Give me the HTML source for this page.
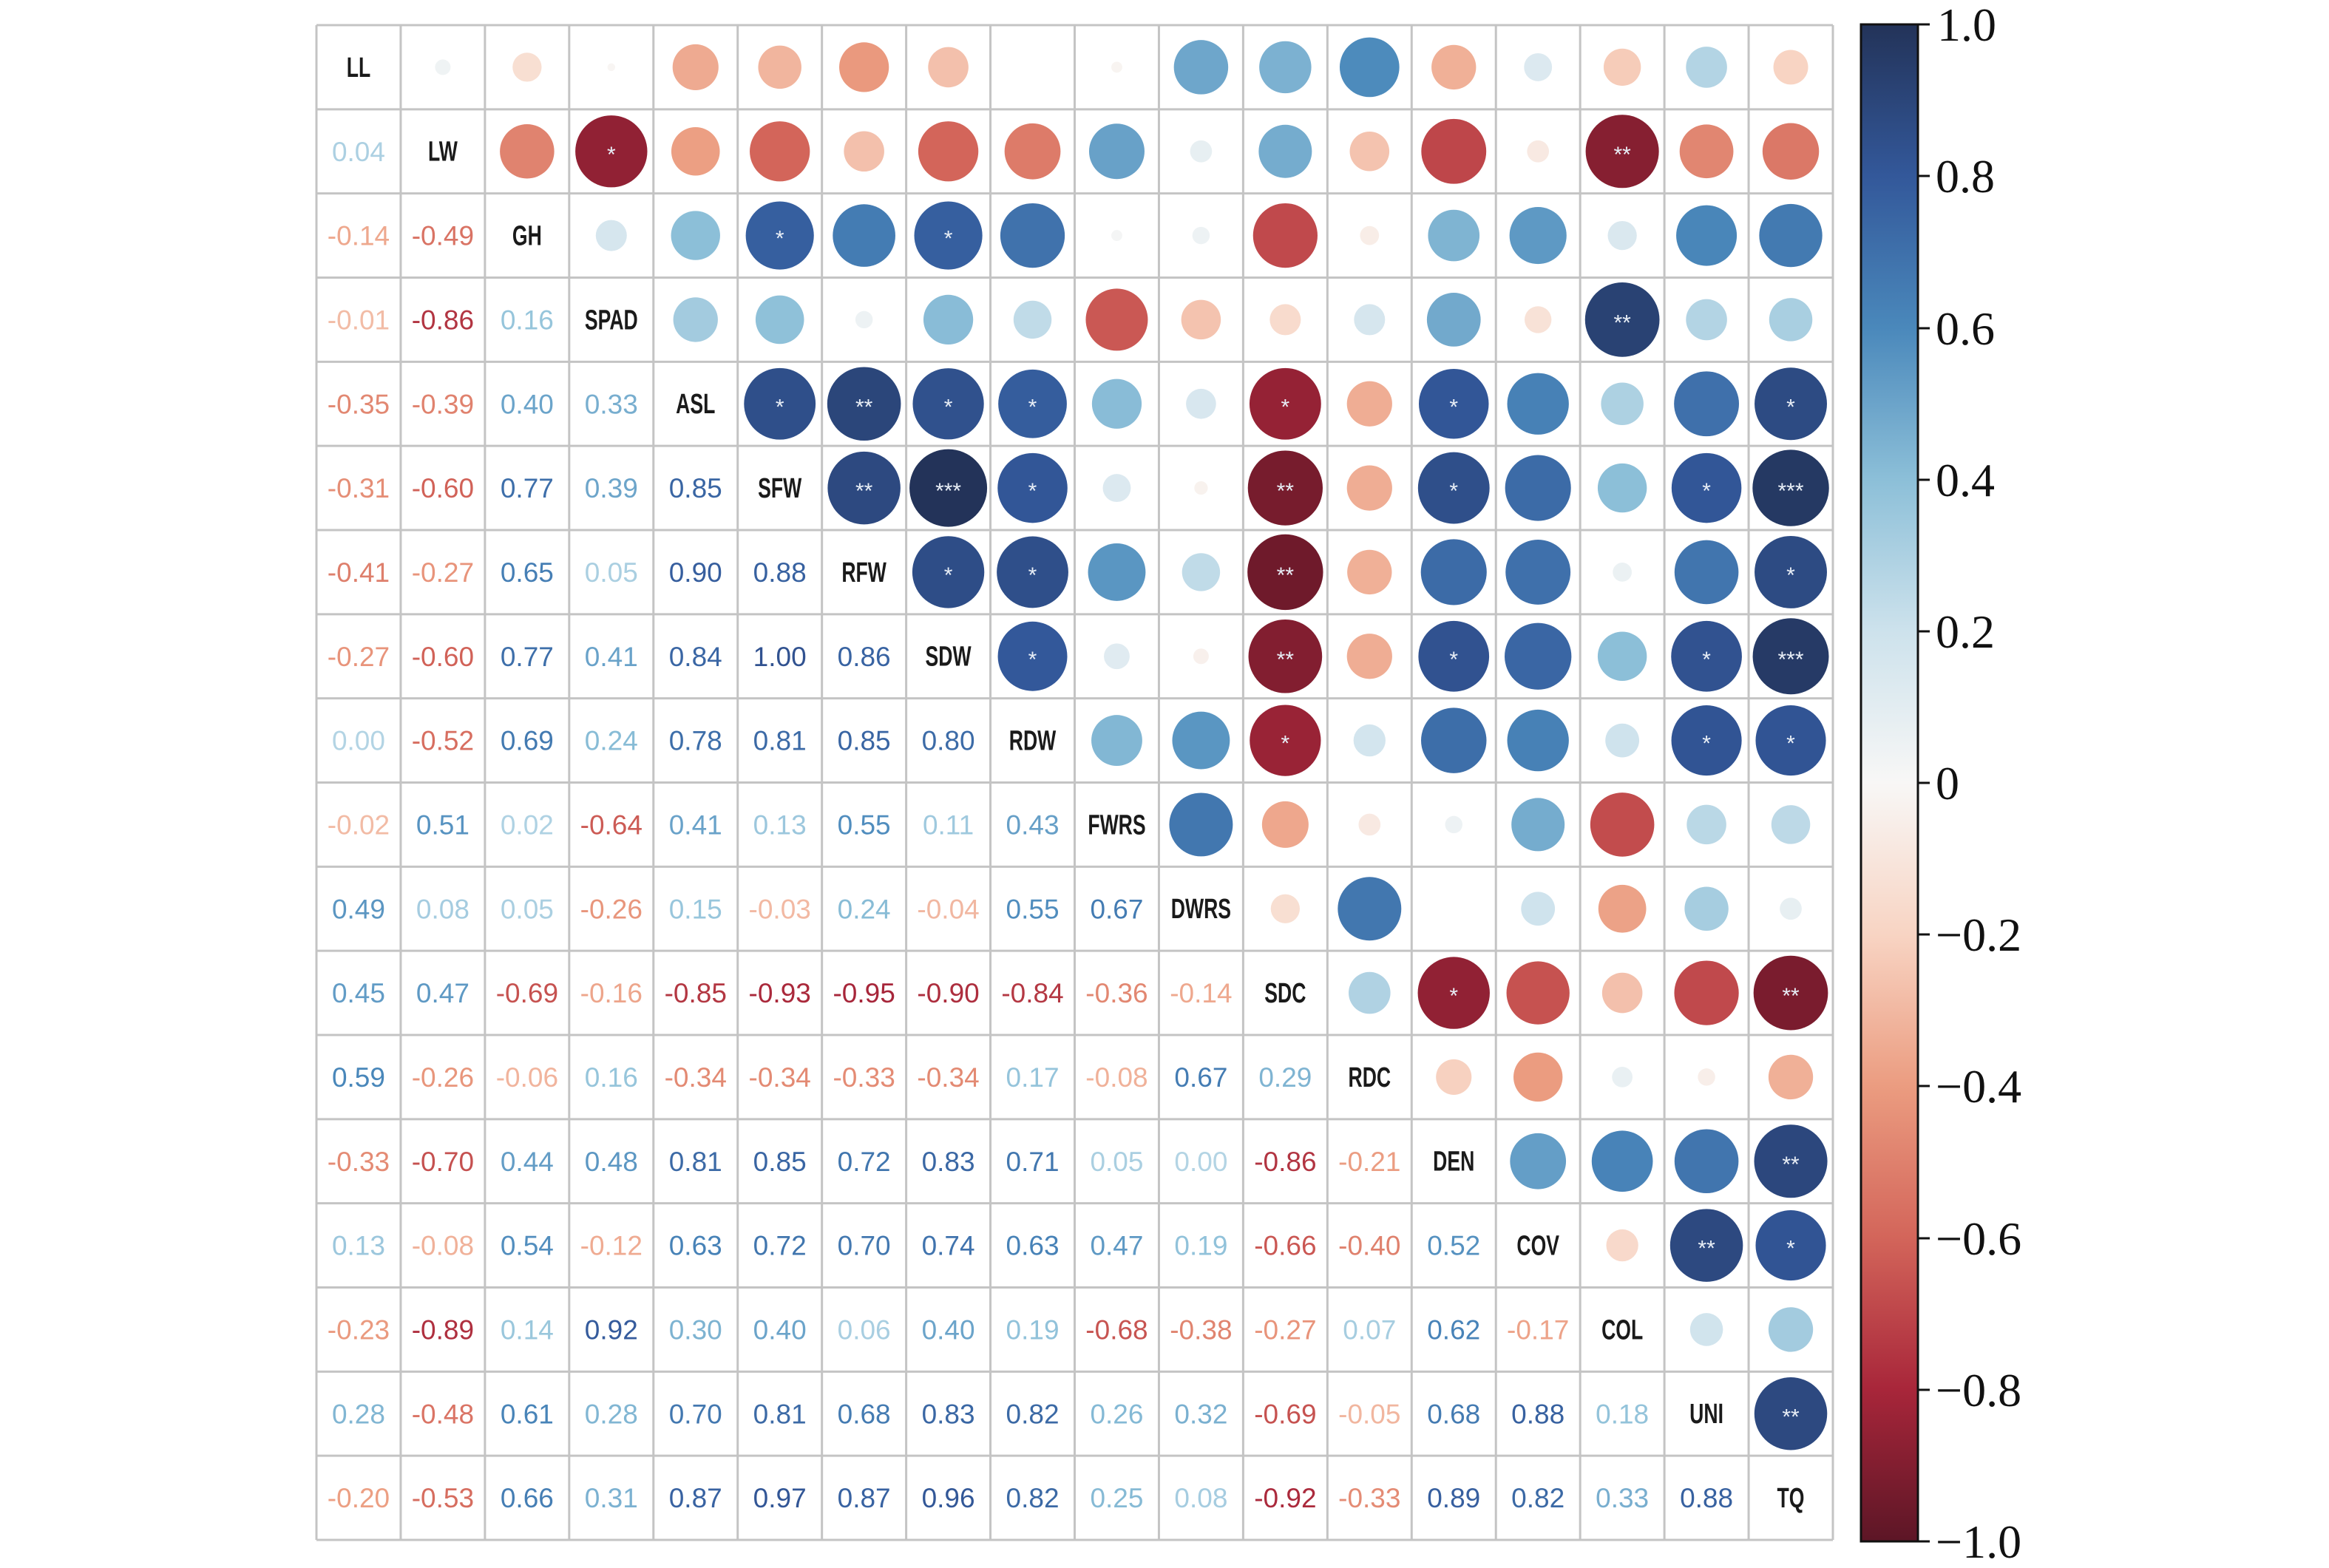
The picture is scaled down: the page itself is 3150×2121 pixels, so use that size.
<!DOCTYPE html>
<html><head><meta charset="utf-8"><style>
html,body{margin:0;padding:0;background:#fff;}
svg{display:block;}
.n{font-family:"Liberation Sans",sans-serif;font-size:37px;text-anchor:middle;}
.d{font-family:"Liberation Sans",sans-serif;font-size:38px;font-weight:bold;text-anchor:middle;fill:#1a1a1a;}
.s{font-family:"Liberation Sans",sans-serif;font-size:30px;text-anchor:middle;fill:#e8eef6;}
.cb{font-family:"Liberation Serif",serif;font-size:64px;fill:#111;}
</style></head><body>
<svg id="sv" width="3150" height="2121" viewBox="0 0 3150 2121" xmlns="http://www.w3.org/2000/svg">
<defs><linearGradient id="cg" x1="0" y1="0" x2="0" y2="1">
<stop offset="0" stop-color="#233359"/><stop offset="0.1" stop-color="#33589a"/><stop offset="0.2" stop-color="#4a88bb"/><stop offset="0.3" stop-color="#8cbfd8"/><stop offset="0.4" stop-color="#cde2ec"/><stop offset="0.5" stop-color="#f8f7f6"/><stop offset="0.6" stop-color="#f8d4c3"/><stop offset="0.7" stop-color="#eb9c80"/><stop offset="0.8" stop-color="#d3655a"/><stop offset="0.9" stop-color="#a8263a"/><stop offset="1" stop-color="#5c1626"/>
</linearGradient></defs>
<g id="circ"></g>
<g id="grid"></g>
<g id="rows">
<g><text class="d">LL</text></g>
<g><text class="n">0.04</text><text class="d">LW</text></g>
<g><text class="n">-0.14</text><text class="n">-0.49</text><text class="d">GH</text></g>
<g><text class="n">-0.01</text><text class="n">-0.86</text><text class="n">0.16</text><text class="d">SPAD</text></g>
<g><text class="n">-0.35</text><text class="n">-0.39</text><text class="n">0.40</text><text class="n">0.33</text><text class="d">ASL</text></g>
<g><text class="n">-0.31</text><text class="n">-0.60</text><text class="n">0.77</text><text class="n">0.39</text><text class="n">0.85</text><text class="d">SFW</text></g>
<g><text class="n">-0.41</text><text class="n">-0.27</text><text class="n">0.65</text><text class="n">0.05</text><text class="n">0.90</text><text class="n">0.88</text><text class="d">RFW</text></g>
<g><text class="n">-0.27</text><text class="n">-0.60</text><text class="n">0.77</text><text class="n">0.41</text><text class="n">0.84</text><text class="n">1.00</text><text class="n">0.86</text><text class="d">SDW</text></g>
<g><text class="n">0.00</text><text class="n">-0.52</text><text class="n">0.69</text><text class="n">0.24</text><text class="n">0.78</text><text class="n">0.81</text><text class="n">0.85</text><text class="n">0.80</text><text class="d">RDW</text></g>
<g><text class="n">-0.02</text><text class="n">0.51</text><text class="n">0.02</text><text class="n">-0.64</text><text class="n">0.41</text><text class="n">0.13</text><text class="n">0.55</text><text class="n">0.11</text><text class="n">0.43</text><text class="d">FWRS</text></g>
<g><text class="n">0.49</text><text class="n">0.08</text><text class="n">0.05</text><text class="n">-0.26</text><text class="n">0.15</text><text class="n">-0.03</text><text class="n">0.24</text><text class="n">-0.04</text><text class="n">0.55</text><text class="n">0.67</text><text class="d">DWRS</text></g>
<g><text class="n">0.45</text><text class="n">0.47</text><text class="n">-0.69</text><text class="n">-0.16</text><text class="n">-0.85</text><text class="n">-0.93</text><text class="n">-0.95</text><text class="n">-0.90</text><text class="n">-0.84</text><text class="n">-0.36</text><text class="n">-0.14</text><text class="d">SDC</text></g>
<g><text class="n">0.59</text><text class="n">-0.26</text><text class="n">-0.06</text><text class="n">0.16</text><text class="n">-0.34</text><text class="n">-0.34</text><text class="n">-0.33</text><text class="n">-0.34</text><text class="n">0.17</text><text class="n">-0.08</text><text class="n">0.67</text><text class="n">0.29</text><text class="d">RDC</text></g>
<g><text class="n">-0.33</text><text class="n">-0.70</text><text class="n">0.44</text><text class="n">0.48</text><text class="n">0.81</text><text class="n">0.85</text><text class="n">0.72</text><text class="n">0.83</text><text class="n">0.71</text><text class="n">0.05</text><text class="n">0.00</text><text class="n">-0.86</text><text class="n">-0.21</text><text class="d">DEN</text></g>
<g><text class="n">0.13</text><text class="n">-0.08</text><text class="n">0.54</text><text class="n">-0.12</text><text class="n">0.63</text><text class="n">0.72</text><text class="n">0.70</text><text class="n">0.74</text><text class="n">0.63</text><text class="n">0.47</text><text class="n">0.19</text><text class="n">-0.66</text><text class="n">-0.40</text><text class="n">0.52</text><text class="d">COV</text></g>
<g><text class="n">-0.23</text><text class="n">-0.89</text><text class="n">0.14</text><text class="n">0.92</text><text class="n">0.30</text><text class="n">0.40</text><text class="n">0.06</text><text class="n">0.40</text><text class="n">0.19</text><text class="n">-0.68</text><text class="n">-0.38</text><text class="n">-0.27</text><text class="n">0.07</text><text class="n">0.62</text><text class="n">-0.17</text><text class="d">COL</text></g>
<g><text class="n">0.28</text><text class="n">-0.48</text><text class="n">0.61</text><text class="n">0.28</text><text class="n">0.70</text><text class="n">0.81</text><text class="n">0.68</text><text class="n">0.83</text><text class="n">0.82</text><text class="n">0.26</text><text class="n">0.32</text><text class="n">-0.69</text><text class="n">-0.05</text><text class="n">0.68</text><text class="n">0.88</text><text class="n">0.18</text><text class="d">UNI</text></g>
<g><text class="n">-0.20</text><text class="n">-0.53</text><text class="n">0.66</text><text class="n">0.31</text><text class="n">0.87</text><text class="n">0.97</text><text class="n">0.87</text><text class="n">0.96</text><text class="n">0.82</text><text class="n">0.25</text><text class="n">0.08</text><text class="n">-0.92</text><text class="n">-0.33</text><text class="n">0.89</text><text class="n">0.82</text><text class="n">0.33</text><text class="n">0.88</text><text class="d">TQ</text></g>
</g>
<g id="stars">
<text class="s">*</text><text class="s">**</text>
<text class="s">*</text><text class="s">*</text>
<text class="s">**</text>
<text class="s">*</text><text class="s">**</text><text class="s">*</text><text class="s">*</text><text class="s">*</text><text class="s">*</text><text class="s">*</text>
<text class="s">**</text><text class="s">***</text><text class="s">*</text><text class="s">**</text><text class="s">*</text><text class="s">*</text><text class="s">***</text>
<text class="s">*</text><text class="s">*</text><text class="s">**</text><text class="s">*</text>
<text class="s">*</text><text class="s">**</text><text class="s">*</text><text class="s">*</text><text class="s">***</text>
<text class="s">*</text><text class="s">*</text><text class="s">*</text>
<text class="s">*</text><text class="s">**</text>
<text class="s">**</text>
<text class="s">**</text><text class="s">*</text>
<text class="s">**</text>
</g>
<rect x="2517" y="33" width="77" height="2052" fill="url(#cg)" stroke="#111" stroke-width="3"/>
<g stroke="#111" stroke-width="3">
<line x1="2594" y1="33" x2="2610" y2="33"/><line x1="2594" y1="238" x2="2610" y2="238"/><line x1="2594" y1="444" x2="2610" y2="444"/><line x1="2594" y1="649" x2="2610" y2="649"/><line x1="2594" y1="854" x2="2610" y2="854"/><line x1="2594" y1="1059" x2="2610" y2="1059"/><line x1="2594" y1="1264" x2="2610" y2="1264"/><line x1="2594" y1="1469" x2="2610" y2="1469"/><line x1="2594" y1="1675" x2="2610" y2="1675"/><line x1="2594" y1="1880" x2="2610" y2="1880"/><line x1="2594" y1="2085" x2="2610" y2="2085"/>
</g>
<g class="cb">
<text x="2620" y="55">1.0</text><text x="2618" y="260">0.8</text><text x="2618" y="466">0.6</text><text x="2618" y="671">0.4</text><text x="2618" y="876">0.2</text><text x="2618" y="1081">0</text>
<text x="2618" y="1286">−0.2</text><text x="2618" y="1491">−0.4</text><text x="2618" y="1697">−0.6</text><text x="2618" y="1902">−0.8</text><text x="2618" y="2107">−1.0</text>
</g>
</svg>
<script>
(function(){
var NS="http://www.w3.org/2000/svg";
var X0=428,Y0=34,CW=(2479-428)/18,CH=(2083-34)/18,N=18;
var stops=[[1,"#233359"],[0.8,"#33589a"],[0.6,"#4a88bb"],[0.4,"#8cbfd8"],[0.2,"#cde2ec"],[0,"#f8f7f6"],[-0.2,"#f8d4c3"],[-0.4,"#eb9c80"],[-0.6,"#d3655a"],[-0.8,"#a8263a"],[-1,"#5c1626"]];
function hx(h){return [parseInt(h.substr(1,2),16),parseInt(h.substr(3,2),16),parseInt(h.substr(5,2),16)];}
function col(v){for(var k=0;k<stops.length-1;k++){var a=stops[k],b=stops[k+1];if(v<=a[0]&&v>=b[0]){var t=(a[0]-v)/(a[0]-b[0]);var A=hx(a[1]),B=hx(b[1]);return "rgb("+A.map(function(c,i){return Math.round(c+(B[i]-c)*t);}).join(",")+")";}}return "#fff";}
function cx(j){return X0+CW*(j+0.5);} function cy(i){return Y0+CH*(i+0.5);}
var M=[];for(var i=0;i<N;i++){M.push([]);}
var rows=document.getElementById("rows").children;
for(var i=0;i<N;i++){var ts=rows[i].children;for(var j=0;j<ts.length;j++){var t=ts[j];
 if(t.getAttribute("class")=="d"){var s=0.7;t.setAttribute("transform","scale("+s+",1)");t.setAttribute("x",cx(j)/s);t.setAttribute("y",cy(i)+13);}
 else{var txt=t.textContent;var v=parseFloat(txt);M[i][j]=v;var sg=txt.charAt(0)=="-"?-1:1;
  t.setAttribute("x",cx(j));t.setAttribute("y",cy(i)+13);t.setAttribute("fill",col(sg*(0.28+0.55*Math.abs(v))));}}}
var cg=document.getElementById("circ");
for(var i=0;i<N;i++)for(var j=0;j<i;j++){var v=M[i][j];var r=52.5*Math.sqrt(Math.abs(v));if(r<1)continue;
 var c=document.createElementNS(NS,"circle");c.setAttribute("cx",cx(i));c.setAttribute("cy",cy(j));c.setAttribute("r",r);c.setAttribute("fill",col(v));cg.appendChild(c);}
var g=document.getElementById("grid");var h="";
for(var k=0;k<=N;k++){h+='<line x1="'+(X0+CW*k)+'" y1="'+Y0+'" x2="'+(X0+CW*k)+'" y2="2083" stroke="#c4c4c4" stroke-width="3"/>';
 h+='<line x1="'+X0+'" y1="'+(Y0+CH*k)+'" x2="2479" y2="'+(Y0+CH*k)+'" stroke="#c4c4c4" stroke-width="3"/>';}
g.innerHTML=h;
var P=[[1,3],[1,15],[2,5],[2,7],[3,15],[4,5],[4,6],[4,7],[4,8],[4,11],[4,13],[4,17],[5,6],[5,7],[5,8],[5,11],[5,13],[5,16],[5,17],[6,7],[6,8],[6,11],[6,17],[7,8],[7,11],[7,13],[7,16],[7,17],[8,11],[8,16],[8,17],[11,13],[11,17],[13,17],[14,16],[14,17],[16,17]];
var st=document.getElementById("stars").children;
for(var k=0;k<st.length;k++){var p=P[k];st[k].setAttribute("x",cx(p[1]));st[k].setAttribute("y",cy(p[0])+14);}
})();
</script>
</body></html>
